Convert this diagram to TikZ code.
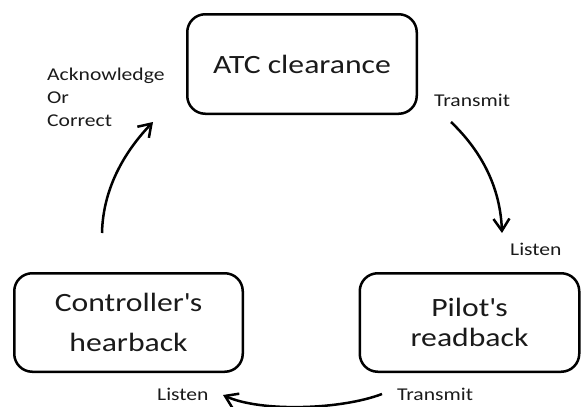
\documentclass[tikz,border=0pt]{standalone}
\usepackage{fontspec}
\setmainfont[FakeStretch=1.2]{Carlito}
\usetikzlibrary{arrows.meta}
\definecolor{ink}{HTML}{1A1A1A}
\begin{document}
\begin{tikzpicture}[x=1pt,y=-1pt,
  stage/.style={draw=black, line width=2.5pt, rounded corners=18pt,
    inner sep=0pt, align=center, text=ink},
  bigtext/.style={font=\fontsize{26.4}{#1}\selectfont},
  tag/.style={text=ink, inner sep=0pt, anchor=base west,
    font=\fontsize{18}{23}\selectfont},
  flow/.style={line width=2.5pt, -{Straight Barb[length=12pt,width=16pt]}}
]
\useasboundingbox (0,0) rectangle (582,407);

% the three stages of the loop
\node[stage, bigtext=30, minimum width=229.5pt, minimum height=99.5pt]
  (atc) at (302,64) {ATC clearance};
\node[stage, bigtext=30, minimum width=219.5pt, minimum height=98.5pt]
  (pilot) at (469.5,322.5) {Pilot\textquotesingle s\\readback};
\node[stage, bigtext=40, minimum width=228.5pt, minimum height=98.5pt]
  (ctrl) at (128.5,322.5) {Controller\textquotesingle s\\hearback};

% labels beside the arrows
\node[tag] (tx1) at (434,106) {Transmit};
\node[tag] (rx1) at (510,255) {Listen};
\node[tag] (tx2) at (397,400) {Transmit};
\node[tag] (rx2) at (157,400) {Listen};
% base anchor of a multi-line node sits on its last line
\node[tag, align=left] (ack) at (47,126) {Acknowledge\\Or\\Correct};

% arrow ends
\coordinate (a1) at (451,122);
\coordinate (b1) at (502,233);
\coordinate (a2) at (382,394);
\coordinate (b2) at (223,395);
\coordinate (a3) at (102,233);
\coordinate (b3) at (153,122);

\draw[flow] (a1) .. controls (475,145) and (500,180) .. (b1);
\draw[flow] (a2) .. controls (340,410) and (260,412) .. (b2);
\draw[flow] (a3) .. controls (103,185) and (128,148) .. (b3);
\end{tikzpicture}
\end{document}
